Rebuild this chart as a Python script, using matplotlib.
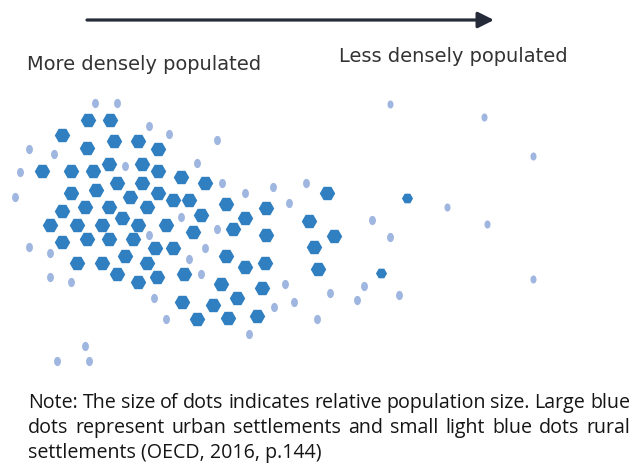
import matplotlib
matplotlib.use("Agg")
import matplotlib.pyplot as plt
from matplotlib.path import Path
from matplotlib.transforms import Affine2D

# ---- data (positions, in pixel-like units) ----
urban_x = [88, 110, 62, 114, 138, 158, 87, 42, 71, 93, 109, 142, 158, 181, 205,
           71, 96, 117, 142, 130, 158, 173, 189, 226, 62, 85, 109, 147, 122, 201,
           50, 77, 102, 138, 166, 193, 233, 62, 87, 109, 133, 155, 173, 125, 77,
           102, 147, 226, 117, 138, 157, 184, 221, 182, 213, 237, 197, 228, 266,
           245, 266, 245, 265, 262, 257, 327, 309, 334, 314, 318]
urban_y = [120, 120, 135, 141, 141, 149, 148, 171, 171, 171, 164, 164, 171, 177, 183,
           193, 190, 183, 183, 197, 193, 200, 200, 204, 211, 207, 207, 207, 218, 215,
           225, 225, 225, 225, 225, 232, 229, 242, 239, 239, 239, 248, 248, 256, 263,
           263, 263, 256, 274, 282, 277, 274, 284, 302, 305, 298, 319, 318, 208,
           218, 235, 267, 263, 288, 316, 193, 221, 236, 247, 269]
small_urban_x = [407, 381]
small_urban_y = [198, 273]
rural_x = [95, 117, 149, 169, 29, 54, 20, 15, 125, 197, 217, 222, 245, 273, 306,
           289, 217, 181, 149, 205, 189, 201, 154, 166, 29, 50, 50, 71, 85, 57, 89,
           372, 390, 285, 330, 364, 357, 399, 294, 274, 317, 249]
rural_y = [103, 103, 126, 134, 149, 154, 172, 197, 166, 163, 140, 183, 193, 187, 183,
           203, 229, 217, 235, 248, 259, 274, 298, 319, 247, 253, 277, 282, 346, 361, 361,
           220, 237, 284, 293, 286, 300, 295, 302, 307, 319, 334]
far_rural_x = [390, 484, 533, 447, 487, 533]
far_rural_y = [104, 117, 156, 207, 224, 279]

label_left = "More densely populated"
label_right = "Less densely populated"
note_lines = [
    ("Note: The size of dots indicates relative population size. Large blue", True),
    ("dots represent urban settlements and small light blue dots rural", True),
    ("settlements (OECD, 2016, p.144)", False),
]

# ---- figure ----
fig = plt.figure(figsize=(6.33, 4.67), dpi=100)
ax = fig.add_axes([0, 0, 1, 1])
ax.set_xlim(0, 633)
ax.set_ylim(467, 0)
ax.axis("off")
renderer = fig.canvas.get_renderer()

dark = "#2f7fc1"
light = "#9fb6e0"

ellipse = Path.unit_circle().transformed(Affine2D().scale(0.75, 1.0))

ax.scatter(rural_x, rural_y, marker=ellipse, s=44, color=light, linewidths=0, zorder=2)
ax.scatter(far_rural_x, far_rural_y, marker=ellipse, s=34, color=light, linewidths=0, zorder=2)
ax.scatter(urban_x, urban_y, marker="H", s=124, color=dark, linewidths=0, zorder=3)
ax.scatter(small_urban_x, small_urban_y, marker="H", s=64, color=dark, linewidths=0, zorder=3)

# arrow
ax.annotate("", xy=(494, 20), xytext=(87, 20),
            arrowprops=dict(arrowstyle="-|>", lw=2.3, color="#252b38",
                            mutation_scale=24, shrinkA=0, shrinkB=0))


def fitted_size(text, family, target, fs0=12):
    t = ax.text(0, 0, text, fontsize=fs0, family=family)
    w = t.get_window_extent(renderer).width
    t.remove()
    return fs0 * target / w


head_font = "DejaVu Sans"
hfs = fitted_size(label_left, head_font, 233)
ax.text(27, 64, label_left, fontsize=hfs, family=head_font, color="#333333",
        ha="left", va="center")
ax.text(339, 57, label_right, fontsize=hfs, family=head_font, color="#333333",
        ha="left", va="center")

# justified note
fam = "Open Sans"
fs = fitted_size(note_lines[2][0], fam, 292)
x0, x1 = 28, 630
ys = [403, 428, 453]
for (line, just), y in zip(note_lines, ys):
    if not just:
        ax.text(x0, y, line, fontsize=fs, family=fam, color="#151515", ha="left", va="center")
        continue
    words = line.split(" ")
    texts = [ax.text(0, y, w, fontsize=fs, family=fam, color="#151515",
                     ha="left", va="center") for w in words]
    widths = [t.get_window_extent(renderer).width for t in texts]
    gap = (x1 - x0 - sum(widths)) / (len(words) - 1)
    x = x0
    for t, w in zip(texts, widths):
        t.set_x(x)
        x += w + gap

fig.savefig("out.png", dpi=100)
